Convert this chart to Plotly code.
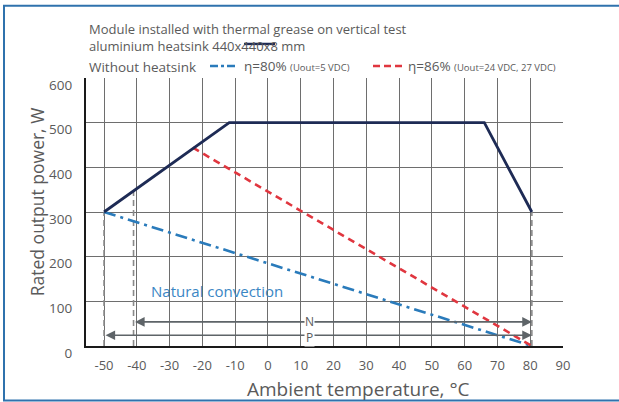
import plotly.graph_objects as go

# ---- data ----
x_ticks = [-50, -40, -30, -20, -10, 0, 10, 20, 30, 40, 50, 60, 70, 80, 90]
y_ticks = [0, 100, 200, 300, 400, 500, 600]

heatsink_x = [-50, -11.8, 66, 80.5]
heatsink_y = [300, 500, 500, 300]

eta80_x = [-50, 80.5]
eta80_y = [300, 0]

eta86_x = [-22.9, 80.5]
eta86_y = [444, 0]

limit_x = [-50, -41, 80.5]
limit_y = [300, 352, 300]

range_N = [-41, 80.5]
range_P = [-50, 80.5]
level_N = 54
level_P = 24

FONT = "Open Sans"
TXT = "#5a5a5a"
NAVY = "#1e2b55"
BLUE = "#2a7bbb"
RED = "#e0363f"

fig = go.Figure()

# limit dashed verticals
for lx, ly in zip(limit_x, limit_y):
    fig.add_trace(go.Scatter(x=[lx, lx], y=[0, ly], mode="lines",
                             line=dict(color="#8a8a8a", width=1.6, dash="6px,4px"),
                             showlegend=False, hoverinfo="skip"))

fig.add_trace(go.Scatter(x=eta80_x, y=eta80_y, mode="lines",
                         line=dict(color=BLUE, width=2.6, dash="12px,5px,3px,5px"),
                         showlegend=False))
fig.add_trace(go.Scatter(x=eta86_x, y=eta86_y, mode="lines",
                         line=dict(color=RED, width=2.6, dash="7px,5px"),
                         showlegend=False))
fig.add_trace(go.Scatter(x=heatsink_x, y=heatsink_y, mode="lines",
                         line=dict(color=NAVY, width=2.8),
                         showlegend=False))

ann = []
# range arrows
for rng, lvl in [(range_N, level_N), (range_P, level_P)]:
    ann.append(dict(x=rng[1], y=lvl, ax=rng[0], ay=lvl, xref="x", yref="y",
                    axref="x", ayref="y", showarrow=True, arrowhead=2,
                    arrowside="end+start", arrowsize=1.2, arrowwidth=1.6,
                    arrowcolor="#5e6468", text=""))
ann.append(dict(x=12.8, y=(level_N + level_P) / 2 - 3, xref="x", yref="y", text="N<br>P",
                showarrow=False, bgcolor="white",
                font=dict(family=FONT, size=12, color=TXT), borderpad=0))

ann.append(dict(x=-15.5, y=124, xref="x", yref="y", text="Natural convection",
                showarrow=False, font=dict(family=FONT, size=15, color="#3a86c4")))


def px(xp):
    return (xp - 86) / 477.0


def py(yp):
    return (345.5 - yp) / 267.5


ann.append(dict(x=px(87), y=py(38), xref="paper", yref="paper", xanchor="left",
                yanchor="middle", showarrow=False, align="left",
                text="Module installed with thermal grease on vertical test<br>"
                     "aluminium heatsink 440x440x8 mm",
                font=dict(family=FONT, size=13, color=TXT)))
ann.append(dict(x=px(87), y=py(67), xref="paper", yref="paper", xanchor="left",
                yanchor="middle", showarrow=False, text="Without heatsink",
                font=dict(family=FONT, size=13.5, color=TXT)))
ann.append(dict(x=px(242), y=py(66), xref="paper", yref="paper", xanchor="left",
                yanchor="middle", showarrow=False,
                text="η=80% <span style='font-size:9.5px'>(Uout=5 VDC)</span>",
                font=dict(family=FONT, size=13.5, color=TXT)))
ann.append(dict(x=px(406), y=py(66), xref="paper", yref="paper", xanchor="left",
                yanchor="middle", showarrow=False,
                text="η=86% <span style='font-size:9.5px'>(Uout=24 VDC, 27 VDC)</span>",
                font=dict(family=FONT, size=13.5, color=TXT)))
# axis titles
ann.append(dict(x=px(358), y=py(388), xref="paper", yref="paper", xanchor="center",
                yanchor="middle", showarrow=False, text="Ambient temperature, °C",
                font=dict(family=FONT, size=19, color=TXT)))
ann.append(dict(x=px(37), y=py(202), xref="paper", yref="paper", xanchor="center",
                yanchor="middle", showarrow=False, text="Rated output power, W",
                textangle=-90, font=dict(family=FONT, size=17.5, color=TXT)))

shapes = [
    # legend samples
    dict(type="line", xref="paper", yref="paper", x0=px(210), x1=px(238), y0=py(66), y1=py(66),
         line=dict(color=BLUE, width=2.6, dash="8px,3px,3px,3px")),
    dict(type="line", xref="paper", yref="paper", x0=px(373), x1=px(403), y0=py(66), y1=py(66),
         line=dict(color=RED, width=2.6, dash="7px,4px")),
    dict(type="line", xref="paper", yref="paper", x0=px(244), x1=px(275), y0=py(44), y1=py(44),
         line=dict(color=NAVY, width=2.4)),
    # outer blue frame
    dict(type="line", xref="paper", yref="paper", x0=px(4), x1=px(4), y0=py(6), y1=py(400),
         line=dict(color="#2f72ad", width=2)),
    dict(type="line", xref="paper", yref="paper", x0=px(3), x1=px(625), y0=py(6), y1=py(6),
         line=dict(color="#2f72ad", width=2)),
    dict(type="line", xref="paper", yref="paper", x0=px(3), x1=px(625), y0=py(400), y1=py(400),
         line=dict(color="#2f72ad", width=2)),
]

fig.update_layout(
    width=619, height=402,
    margin=dict(l=86, r=56, t=78, b=56, autoexpand=False),
    paper_bgcolor="white", plot_bgcolor="white",
    annotations=ann, shapes=shapes,
    font=dict(family=FONT, color=TXT),
    xaxis=dict(range=[-55.5, 90], tickvals=x_ticks, ticktext=[str(v) for v in x_ticks],
               automargin=False,
               showgrid=True, gridcolor="#6e6e6e", gridwidth=1.2,
               showline=True, linecolor="#1a1a1a", linewidth=2.2,
               zeroline=False, ticks="", tickfont=dict(family=FONT, size=13, color=TXT),
               ticklabelstandoff=6),
    yaxis=dict(range=[0, 600], tickvals=y_ticks, showgrid=True, gridcolor="#6e6e6e",
               automargin=False,
               gridwidth=1.2, showline=True, linecolor="#1a1a1a", linewidth=2.2,
               zeroline=False, ticks="", tickfont=dict(family=FONT, size=13.5, color=TXT),
               ticklabelshift=7, ticklabelstandoff=9),
)

fig.write_html("out.html", config={"displayModeBar": False},
               post_script="document.body.style.margin='0';")
